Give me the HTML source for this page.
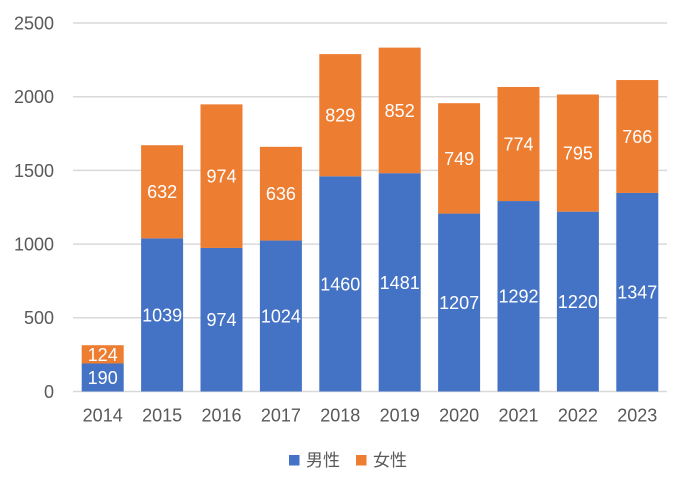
<!DOCTYPE html>
<html>
<head>
<meta charset="utf-8">
<style>
html,body{margin:0;padding:0;background:#fff;}
svg{display:block;}
text{font-family:"Liberation Sans","Noto Sans CJK JP",sans-serif;}
</style>
</head>
<body>
<svg width="690" height="491" viewBox="0 0 690 491" xmlns="http://www.w3.org/2000/svg">
<rect width="690" height="491" fill="#fff"/>
<g stroke="#D9D9D9" stroke-width="1.5">
<line x1="73" x2="667" y1="23" y2="23"/>
<line x1="73" x2="667" y1="96.7" y2="96.7"/>
<line x1="73" x2="667" y1="170.4" y2="170.4"/>
<line x1="73" x2="667" y1="244.1" y2="244.1"/>
<line x1="73" x2="667" y1="317.8" y2="317.8"/>
<line x1="73" x2="667" y1="391.5" y2="391.5"/>
</g>
<g font-size="18" fill="#595959" text-anchor="end">
<text x="54" y="29.4">2500</text>
<text x="54" y="103.1">2000</text>
<text x="54" y="176.8">1500</text>
<text x="54" y="250.5">1000</text>
<text x="54" y="324.2">500</text>
<text x="54" y="397.9">0</text>
</g>
<g id="bars"></g>
<g font-size="18" fill="#595959" text-anchor="middle" id="xlabels"></g>
<g id="lbl" font-size="18" fill="#fff" text-anchor="middle"></g>
<rect x="289" y="455" width="10.5" height="10.5" fill="#4472C4"/>
<text x="306" y="466" font-size="17" fill="#595959" font-family="'Noto Sans CJK JP',sans-serif">男性</text>
<rect x="356" y="455" width="10.5" height="10.5" fill="#ED7D31"/>
<text x="373" y="466" font-size="17" fill="#595959" font-family="'Noto Sans CJK JP',sans-serif">女性</text>
<script>
(function(){
var data=[[2014,190,124],[2015,1039,632],[2016,974,974],[2017,1024,636],[2018,1460,829],[2019,1481,852],[2020,1207,749],[2021,1292,774],[2022,1220,795],[2023,1347,766]];
var ns="http://www.w3.org/2000/svg";
var bars=document.getElementById("bars"),xl=document.getElementById("xlabels"),lbl=document.getElementById("lbl");
var y0=391.5,k=0.1474;
function el(n,a,t){var e=document.createElementNS(ns,n);for(var key in a)e.setAttribute(key,a[key]);if(t!==undefined)e.textContent=t;return e;}
data.forEach(function(d,i){
var x=73+59.4*i+8.7,w=42,cx=x+21;
var ym=y0-d[1]*k,yf=ym-d[2]*k;
bars.appendChild(el("rect",{x:x,y:ym,width:w,height:y0-ym,fill:"#4472C4"}));
bars.appendChild(el("rect",{x:x,y:yf,width:w,height:ym-yf,fill:"#ED7D31"}));
xl.appendChild(el("text",{x:cx,y:421.5},String(d[0])));
lbl.appendChild(el("text",{x:cx,y:(ym+y0)/2+6.4},String(d[1])));
lbl.appendChild(el("text",{x:cx,y:(yf+ym)/2+6.4},String(d[2])));
});
})();
</script>
</svg>
</body>
</html>
